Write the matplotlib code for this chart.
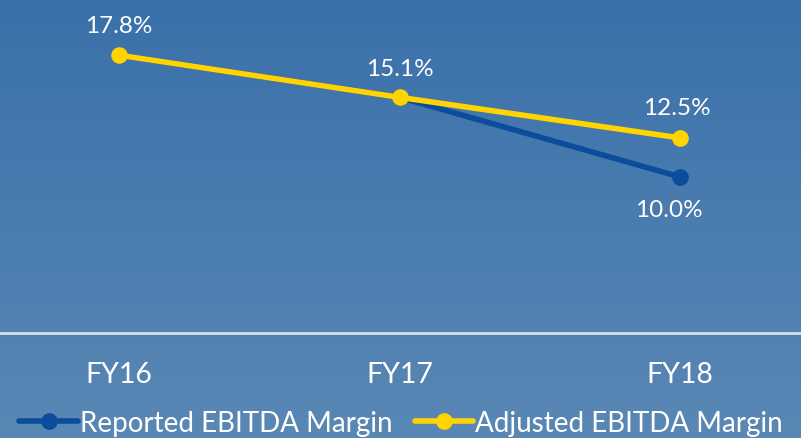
import numpy as np
import matplotlib
matplotlib.use('Agg')
import matplotlib.pyplot as plt

years = ['FY16', 'FY17', 'FY18']
reported = [17.8, 15.1, 10.0]
adjusted = [17.8, 15.1, 12.5]

blue = '#0c4c9c'
yellow = '#ffd400'
plt.rcParams['font.family'] = ['Lato', 'DejaVu Sans']

fig = plt.figure(figsize=(8.01, 4.39), dpi=100)

# Gradient background
bg = fig.add_axes([0, 0, 1, 1], zorder=0)
top = np.array([58, 112, 170]) / 255
bottom = np.array([90, 136, 181]) / 255
t = np.linspace(0, 1, 256)[:, None]
grad = top[None, :] * (1 - t) + bottom[None, :] * t
bg.imshow(grad[:, None, :], aspect='auto', extent=[0, 1, 0, 1])
bg.axis('off')

ax = fig.add_axes([0, 1 - 334 / 439, 1, 334 / 439], zorder=1)
ax.patch.set_alpha(0)
x = np.arange(len(years))

ax.plot(x, reported, color=blue, lw=4, marker='o', ms=11, solid_capstyle='round',
        label='Reported EBITDA Margin', zorder=2)
ax.plot(x, adjusted, color=yellow, lw=4, marker='o', ms=11, solid_capstyle='round',
        label='Adjusted EBITDA Margin', zorder=3)

ax.set_xlim(-0.424, 2.431)
ax.set_ylim(0, 21.4)

# Data labels
ax.annotate('17.8%', (0, adjusted[0]), xytext=(0, 14), textcoords='offset points',
            ha='center', va='bottom', color='white', fontsize=17.5)
ax.annotate('15.1%', (1, adjusted[1]), xytext=(0, 13), textcoords='offset points',
            ha='center', va='bottom', color='white', fontsize=17.5)
ax.annotate('12.5%', (2, adjusted[2]), xytext=(-2, 14), textcoords='offset points',
            ha='center', va='bottom', color='white', fontsize=17.5)
ax.annotate('10.0%', (2, reported[2]), xytext=(-8, -16), textcoords='offset points',
            ha='center', va='top', color='white', fontsize=17.5)

for s in ['top', 'right', 'left']:
    ax.spines[s].set_visible(False)
ax.spines['bottom'].set_color('#d9dee6')
ax.spines['bottom'].set_linewidth(2)
ax.set_yticks([])
ax.set_xticks(x)
ax.set_xticklabels(years, color='white', fontsize=20.5)
ax.tick_params(axis='x', length=0, pad=20)

leg = fig.legend(loc='lower left', bbox_to_anchor=(0.0, -0.04), ncol=2, frameon=False,
                 fontsize=20, labelcolor='white', handlelength=2.1, handletextpad=0.08,
                 columnspacing=0.8, borderpad=0.2)

fig.savefig('out.png', dpi=100)
